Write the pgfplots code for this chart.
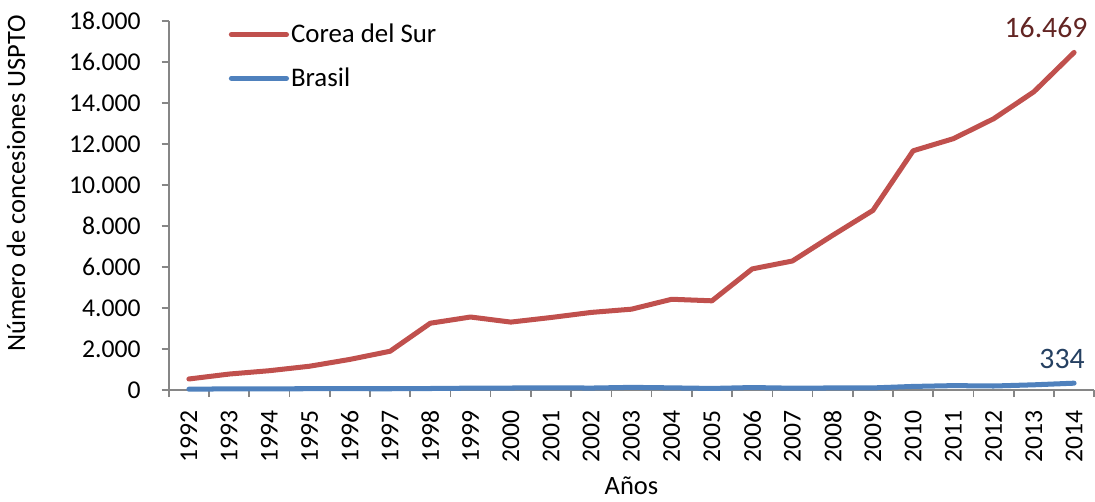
\documentclass[border=0pt]{standalone}
\usepackage{pgfplots}
\pgfplotsset{compat=1.18}
\usepackage{fontspec}
\setmainfont{Carlito}

\definecolor{kred}{HTML}{C0504D}
\definecolor{bblue}{HTML}{4F81BD}
\definecolor{kredlab}{HTML}{632523}
\definecolor{bbluelab}{HTML}{254061}
\definecolor{axgray}{HTML}{868686}

\begin{document}
\begin{tikzpicture}
\begin{axis}[
  scale only axis,
  width=461.5pt, height=184pt,
  clip=false,
  xmin=-0.5, xmax=22.5,
  ymin=0, ymax=18000,
  axis lines*=left,
  axis line style={axgray, line width=0.8pt},
  xtick={0,...,22},
  xticklabels={1992,1993,1994,1995,1996,1997,1998,1999,2000,2001,2002,2003,2004,2005,2006,2007,2008,2009,2010,2011,2012,2013,2014},
  minor xtick={-0.5,0.5,...,22.5},
  ytick={0,2000,...,18000},
  tick align=outside,
  major tick length=3.5pt,
  minor tick length=3.5pt,
  x tick style={draw=none},
  minor x tick style={draw=axgray, line width=0.8pt},
  y tick style={draw=axgray, line width=0.8pt},
  x tick label style={rotate=90, anchor=east, font=\fontsize{12.8}{14}\selectfont},
  y tick label style={font=\fontsize{12.8}{14}\selectfont},
  xticklabel shift=3pt,
  yticklabel shift=7pt,
  /pgf/number format/.cd, 1000 sep={.}, assume math mode=true,
  /pgfplots/.cd,
  scaled y ticks=false,
  ylabel={Número de concesiones USPTO},
  xlabel={Años},
  xlabel shift=0.5pt,
  ylabel style={at={(ticklabel cs:0.56,15pt)}, font=\fontsize{13.2}{15}\selectfont},
  xlabel style={font=\fontsize{13.2}{15}\selectfont},
  legend style={at={(0.058,1.01)}, anchor=north west, draw=none, fill=none,
    font=\fontsize{13.4}{15}\selectfont, row sep=9pt,
    nodes={inner sep=1pt}},
  legend cell align=left,
  legend image code/.code={\draw[#1] (0pt,0pt) -- (27.5pt,0pt);},
]
\addplot[kred, line width=2.5pt, line cap=round, line join=round] coordinates {
  (0,538) (1,779) (2,943) (3,1161) (4,1493) (5,1891) (6,3259) (7,3562)
  (8,3314) (9,3538) (10,3786) (11,3944) (12,4428) (13,4352) (14,5908)
  (15,6295) (16,7548) (17,8762) (18,11671) (19,12262) (20,13233)
  (21,14548) (22,16469)
};
\addlegendentry{Corea del Sur}
\addplot[bblue, line width=2.5pt, line cap=round, line join=round] coordinates {
  (0,40) (1,57) (2,60) (3,63) (4,63) (5,62) (6,74) (7,91) (8,98)
  (9,110) (10,96) (11,130) (12,106) (13,77) (14,121) (15,90) (16,101)
  (17,103) (18,175) (19,215) (20,196) (21,254) (22,334)
};
\addlegendentry{Brasil}
\node[anchor=south, text=kredlab, font=\fontsize{14.8}{17}\selectfont, inner sep=0pt]
  at (axis cs:22,16469) [xshift=-14pt, yshift=7pt] {16.469};
\node[anchor=south, text=bbluelab, font=\fontsize{14.8}{17}\selectfont, inner sep=0pt]
  at (axis cs:22,334) [xshift=-6pt, yshift=7pt] {334};
\end{axis}
% top padding as in the original chart area
\path (current axis.north) ++(0pt,10.5pt);
\end{tikzpicture}
\end{document}
